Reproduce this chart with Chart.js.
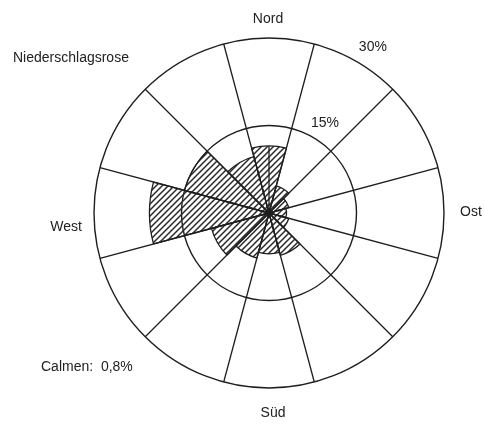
<!DOCTYPE html>
<html>
<head>
<meta charset="utf-8">
<script src="https://cdn.jsdelivr.net/npm/chart.js@4.4.1/dist/chart.umd.min.js"></script>
<style>
  html, body { margin: 0; padding: 0; background: #fff; }
  #wrap { width: 485px; height: 425px; }
</style>
</head>
<body>
<div id="wrap"><canvas id="rose" width="485" height="425"></canvas></div>
<script>
// 12 Sektoren, im Uhrzeigersinn ab Nord
const directions = ["N", "NNO", "ONO", "O", "OSO", "SSO", "S", "SSW", "WSW", "W", "WNW", "NNW"];
const shares = [11.5, 4.8, 3.5, 3, 3.5, 7.5, 7, 8, 10.2, 20.5, 15, 10]; // %
const ringTicks = [15, 30];
const ringLabels = ["15%", "30%"];
const compassLabels = ["Nord", "Ost", "Süd", "West"];

const ink = "#1e1e1e";
const fontFam = "Arial, 'Liberation Sans', Helvetica, sans-serif";

function hatch() {
  const s = 6;
  const c = document.createElement("canvas");
  c.width = s; c.height = s;
  const g = c.getContext("2d");
  g.strokeStyle = "#2a2a2a";
  g.lineWidth = 1.5;
  g.beginPath();
  g.moveTo(0, s); g.lineTo(s, 0);
  g.moveTo(-1, 1); g.lineTo(1, -1);
  g.moveTo(s - 1, s + 1); g.lineTo(s + 1, s - 1);
  g.stroke();
  return g.createPattern(c, "repeat");
}

// Beschriftungen
const textPlugin = {
  id: "roseText",
  afterDatasetsDraw(chart) {
    const ctx = chart.ctx;
    const r = chart.scales.r;
    ctx.save();
    // Nordachse im Nordbalken
    ctx.strokeStyle = ink;
    ctx.lineWidth = 1.3;
    const len = r.getDistanceFromCenterForValue(shares[0]);
    ctx.beginPath();
    ctx.moveTo(r.xCenter, r.yCenter);
    ctx.lineTo(r.xCenter, r.yCenter - len);
    ctx.stroke();

    ctx.fillStyle = "#222";
    ctx.font = "14px " + fontFam;
    ctx.textBaseline = "middle";
    ctx.textAlign = "center";
    ctx.fillText(compassLabels[0], 268, 19);
    ctx.fillText(compassLabels[1], 471, 212);
    ctx.fillText(compassLabels[2], 273, 413);
    ctx.fillText(compassLabels[3], 66, 227);

    // Ringbeschriftung bei ca. 32 Grad
    const a = (32 - 90) * Math.PI / 180;
    ringTicks.forEach((v, i) => {
      const d = r.getDistanceFromCenterForValue(v) + (i === 0 ? 18 : 21);
      ctx.fillText(ringLabels[i], r.xCenter + Math.cos(a) * d, r.yCenter + Math.sin(a) * d);
    });

    ctx.textAlign = "left";
    ctx.fillText("Niederschlagsrose", 13, 58);
    ctx.fillText("Calmen:  0,8%", 41, 367);
    ctx.restore();
  }
};

new Chart(document.getElementById("rose"), {
  type: "polarArea",
  data: {
    labels: directions,
    datasets: [{
      data: shares,
      backgroundColor: hatch(),
      borderColor: ink,
      borderWidth: 1.3
    }]
  },
  options: {
    responsive: false,
    animation: false,
    layout: { padding: { left: 94, right: 41, top: 38, bottom: 37 } },
    plugins: { legend: { display: false }, tooltip: { enabled: false } },
    scales: {
      r: {
        min: 0,
        max: 30,
        startAngle: -15,
        ticks: { display: false, stepSize: 15 },
        grid: { circular: true, color: ink, lineWidth: 1.4 },
        angleLines: { display: true, color: ink, lineWidth: 1.3 },
        pointLabels: { display: false }
      }
    }
  },
  plugins: [textPlugin]
});
</script>
</body>
</html>
